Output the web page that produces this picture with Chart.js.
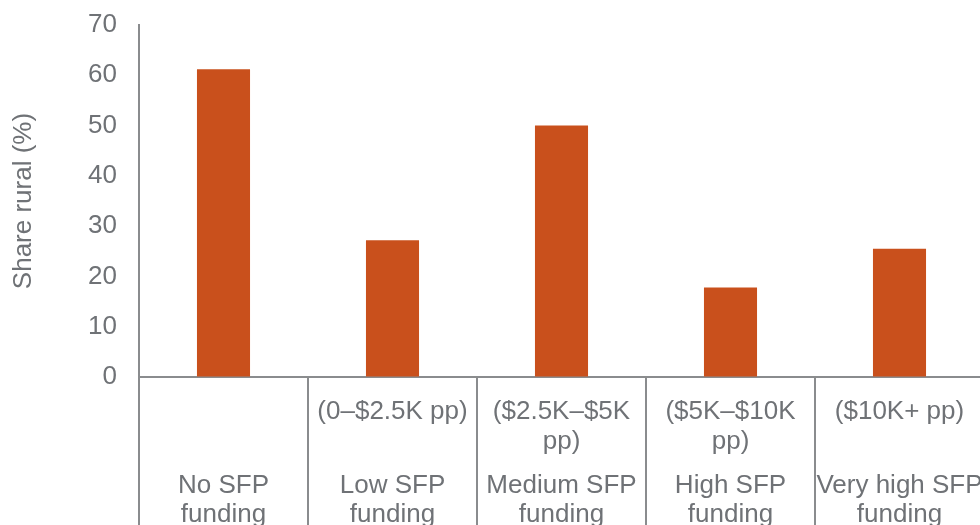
<!DOCTYPE html>
<html>
<head>
<meta charset="utf-8">
<script src="https://cdn.jsdelivr.net/npm/chart.js@4/dist/chart.umd.min.js"></script>
<style>
  html, body { margin: 0; padding: 0; overflow: hidden; background: #fff; }
  #wrap { position: relative; width: 1000px; height: 560px; }
</style>
</head>
<body>
<div id="wrap"><canvas id="rural-chart"></canvas></div>
<script>
(function(){
    'use strict';

    // funding groups, two rows of labels under each bar
    const groupNames = [
        ['No SFP', 'funding'],
        ['Low SFP', 'funding'],
        ['Medium SFP', 'funding'],
        ['High SFP', 'funding'],
        ['Very high SFP', 'funding']
    ];
    const groupRanges = [
        [''],
        ['(0–$2.5K pp)'],
        ['($2.5K–$5K', 'pp)'],
        ['($5K–$10K', 'pp)'],
        ['($10K+ pp)']
    ];
    // share of rural districts, percent
    const shareRural = [61.2, 27.2, 50.0, 17.8, 25.5];
    const yTicks = [0, 10, 20, 30, 40, 50, 60, 70];

    const textColor = '#6f7276';
    const lineColor = '#8a8c8e';
    const barColor = '#c9501c';
    const fontFamily = "'Liberation Sans', Arial, sans-serif";

    // vertical separators between the groups, below the axis
    const separators = {
        id: 'separators',
        afterDraw(chart){
            const xs = chart.scales.x;
            const ctx = chart.ctx;
            const half = (xs.getPixelForValue(1) - xs.getPixelForValue(0)) / 2;
            ctx.save();
            ctx.strokeStyle = lineColor;
            ctx.lineWidth = 2;
            for(let i = 0; i <= groupNames.length; i++){
                const px = Math.round(xs.getPixelForValue(i) - half);
                ctx.beginPath();
                ctx.moveTo(px, xs.top);
                ctx.lineTo(px, chart.height);
                ctx.stroke();
            }
            ctx.restore();
        }
    };

    const labelIdx = groupNames.map(function(n, i){ return i; });

    new Chart('rural-chart', {
        type: 'bar',
        data: {
            labels: labelIdx,
            datasets: [{
                data: shareRural,
                backgroundColor: barColor,
                borderWidth: 0,
                categoryPercentage: 1,
                barPercentage: 0.314
            }]
        },
        options: {
            responsive: true,
            maintainAspectRatio: false,
            animation: false,
            layout: { padding: { top: 25, right: 16, left: 0, bottom: 0 } },
            plugins: {
                legend: { display: false },
                tooltip: { enabled: false }
            },
            scales: {
                y: {
                    min: 0,
                    max: 70,
                    afterBuildTicks: function(scale){
                        scale.ticks = yTicks.map(function(v){ return { value: v }; });
                    },
                    afterFit: function(scale){ scale.width = 139; },
                    // invisible tick marks keep the labels off the axis line
                    grid: { display: true, drawOnChartArea: false, drawTicks: true, tickLength: 22, tickColor: 'rgba(0,0,0,0)' },
                    border: { display: true, color: lineColor, width: 2 },
                    ticks: {
                        color: textColor,
                        padding: 0,
                        font: { family: fontFamily, size: 26, lineHeight: 1.2 }
                    },
                    title: {
                        display: true,
                        text: 'Share rural (%)',
                        color: textColor,
                        padding: { top: 8, bottom: 0 },
                        font: { family: fontFamily, size: 26, lineHeight: 1.2 }
                    }
                },
                x: {
                    position: 'bottom',
                    offset: true,
                    afterFit: function(scale){ scale.height = 90; },
                    grid: { display: true, drawOnChartArea: false, drawTicks: false, offset: true },
                    border: { display: true, color: lineColor, width: 2 },
                    ticks: {
                        autoSkip: false,
                        maxRotation: 0,
                        color: textColor,
                        padding: 20,
                        font: { family: fontFamily, size: 26, lineHeight: 1.154 },
                        callback: function(value, index){ return groupRanges[index]; }
                    }
                },
                x2: {
                    type: 'category',
                    position: 'bottom',
                    labels: labelIdx,
                    offset: true,
                    afterFit: function(scale){ scale.height = 93; },
                    grid: { display: false },
                    border: { display: false },
                    ticks: {
                        autoSkip: false,
                        maxRotation: 0,
                        color: textColor,
                        padding: -4,
                        font: { family: fontFamily, size: 26, lineHeight: 1.115 },
                        callback: function(value, index){ return groupNames[index]; }
                    }
                }
            }
        },
        plugins: [separators]
    });
}());
</script>
</body>
</html>
